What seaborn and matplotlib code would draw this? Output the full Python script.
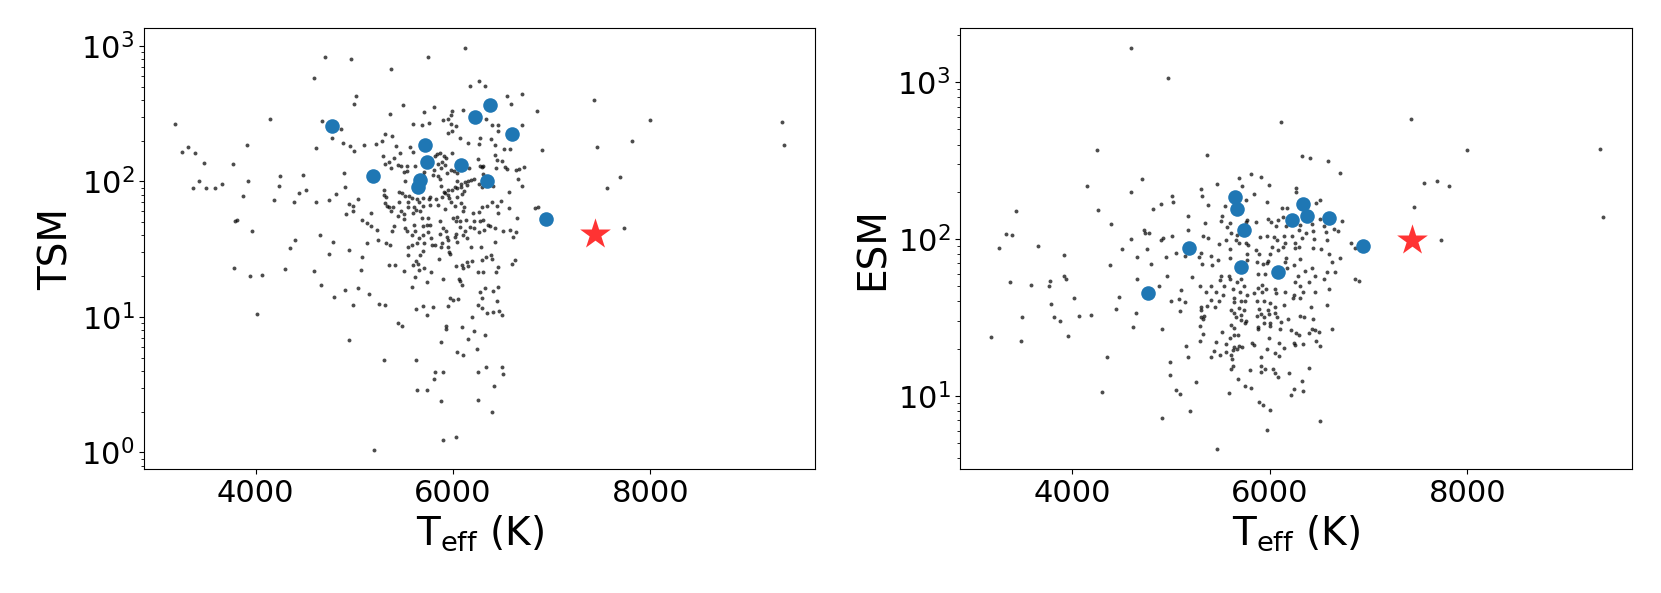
import pandas as pd
import matplotlib
matplotlib.use("Agg")
import matplotlib.pyplot as plt
import seaborn as sns

# (Teff [K], TSM) for the background sample
tsm_points = [
    (6120, 970), (4700, 830), (4970, 800), (5750, 830), (5370, 680), (4590, 580), (6170, 510), (6260, 550), (5020, 425), (5000, 370),
    (3180, 265), (4150, 290), (4670, 280), (4870, 245), (4780, 208), (4610, 177), (4890, 192), (4960, 184), (5000, 169), (5100, 186),
    (5220, 188), (3910, 187), (3250, 166), (3320, 180), (3390, 161), (3480, 136), (3770, 135), (3430, 100), (3370, 90), (3500, 90),
    (3590, 89), (3660, 96), (3920, 101), (4240, 92), (4250, 110), (4480, 111), (4510, 87), (4440, 82), (4190, 73), (3870, 78),
    (4390, 71), (4610, 71), (4740, 73), (4820, 81), (4900, 116), (4910, 91), (5040, 74), (4950, 68), (4990, 66), (4920, 57),
    (4990, 61), (5170, 118), (5170, 58), (5080, 52), (5170, 47), (5130, 49), (5230, 44), (3960, 43), (3790, 51), (3810, 52),
    (4400, 37), (4650, 40), (4790, 36), (5130, 35), (5240, 37), (4350, 32),
    (6330, 503), (6550, 425), (6700, 444), (7430, 401), (8000, 286), (9330, 275), (9360, 187), (7460, 181), (7810, 199), (7690, 107),
    (7560, 90), (7730, 45),
    (4740, 28.9), (4950, 31.1), (5080, 27.5), (5070, 22.3), (3780, 22.9), (3940, 20.0), (4070, 20.4), (4300, 22.5), (4590, 21.9), (4660, 17.3),
    (4800, 14.1), (4910, 15.8), (5040, 16.4), (4990, 12.2), (5150, 14.7), (5250, 12.5), (4010, 10.5), (4950, 6.8), (5200, 1.04), (5880, 2.4),
    (5900, 1.24), (6030, 1.3), (6250, 2.45), (6400, 2.0),
    (5490, 368), (5810, 354), (6590, 374), (5360, 315), (5710, 328), (5990, 332), (6100, 338), (5980, 310), (6850, 330),
    (5600, 266), (5690, 260), (5760, 272), (5900, 282), (5950, 288), (5980, 266), (6030, 255), (5990, 236), (5950, 227), (6340, 288),
    (6400, 259), (6460, 259), (6460, 234), (6700, 259),
    (5310, 222), (5380, 217), (5280, 200), (6070, 208), (6150, 191), (6270, 209), (6260, 188), (6390, 205), (6430, 186), (6520, 174),
    (6580, 174), (6900, 171),
    (5420, 184), (5570, 181), (5460, 163), (5600, 166), (5290, 153), (5400, 149), (5350, 138), (5310, 134), (5370, 125), (5440, 132),
    (5470, 129), (5500, 118), (5540, 129), (5540, 120), (5620, 129),
    (5820, 155), (5840, 159), (5870, 161), (5910, 155), (5990, 163), (5930, 148), (5890, 140), (5920, 133), (5850, 134), (5880, 125),
    (5810, 122), (5800, 112), (5710, 118), (5700, 112), (5850, 109), (5870, 105), (5940, 116), (5980, 122), (6010, 120), (6040, 115),
    (6250, 146), (6270, 129), (6290, 127), (6310, 129), (6160, 125), (6430, 157), (6450, 145), (6500, 141), (6440, 125), (6530, 127),
    (6550, 124), (6640, 121), (6670, 123), (6720, 127), (6310, 114), (6330, 108), (6210, 105),
    (5510, 101), (6040, 101), (6080, 96), (6120, 99), (6150, 101), (6180, 103), (6140, 94), (6080, 91), (6020, 91), (5990, 86),
    (5950, 87), (5920, 82), (5880, 93), (5910, 83), (5950, 79), (5890, 77), (5960, 75), (6040, 90), (6110, 85), (6090, 81),
    (6040, 77), (6260, 96), (6290, 91), (6390, 97), (6410, 93), (6570, 84), (6660, 105), (6700, 93),
    (5300, 86), (5320, 77), (5300, 80), (5450, 83), (5480, 82), (5510, 78), (5560, 78), (5590, 75), (5640, 74), (5700, 76),
    (5770, 77), (5760, 74), (5830, 74), (5660, 71), (5550, 71), (5450, 71), (5310, 69), (5330, 66), (5350, 65), (5390, 65),
    (5370, 61), (5440, 56), (5470, 61), (5500, 57), (5500, 53), (5550, 65), (5610, 65), (5630, 62), (5600, 58), (5670, 61),
    (5700, 66), (5770, 67), (5690, 54), (5750, 54), (5740, 48), (5610, 48), (5620, 43), (5700, 47), (5770, 48),
    (5850, 67), (5920, 63), (5980, 71), (6020, 66), (6080, 69), (6110, 65), (6100, 61), (6040, 55), (6030, 51), (6000, 54),
    (6070, 51), (6130, 52), (6200, 58), (6260, 59), (6300, 65), (6350, 66), (6400, 70), (6450, 66), (6490, 72), (6570, 64),
    (6460, 58), (6310, 52), (6270, 51), (6360, 48), (6380, 47), (6210, 51), (6170, 46), (6070, 46), (6120, 43), (6210, 45),
    (6260, 42), (6320, 44), (6430, 45), (6510, 43), (6580, 44), (6610, 39), (6640, 42), (6650, 54), (6830, 64), (6860, 65),
    (5400, 47), (5510, 45), (5540, 43), (5380, 43), (5590, 40), (5660, 38), (5700, 40), (5780, 38), (5750, 42), (5870, 51),
    (5900, 45), (5930, 43), (5940, 39), (5870, 41), (5950, 37), (5890, 35), (5880, 33), (5820, 34), (5790, 34), (5710, 35),
    (5640, 35), (5590, 34), (5550, 33), (5320, 35), (5360, 34), (6030, 41), (6020, 39), (6040, 36), (6100, 40), (6140, 38),
    (6180, 33), (6280, 33), (6430, 36), (5950, 33),
    (5700, 30.8), (5960, 30.2), (5970, 29.2), (5550, 28.6), (5670, 28.4), (6300, 26.2), (6340, 27.5), (6390, 28.6), (6400, 26.6), (5630, 26.0),
    (5350, 24.2), (5410, 24.2), (5600, 24.1), (5650, 24.5), (5710, 22.8), (5660, 22.1), (5500, 21.8), (5780, 21.6), (5860, 26.6), (6030, 23.6),
    (6090, 24.1), (6100, 23.1), (6140, 25.5), (6150, 23.8), (6190, 25.8), (6250, 21.3), (6310, 21.5), (6440, 21.6), (6460, 23.2), (6600, 24.5),
    (6630, 26.2),
    (5620, 19.7), (5900, 19.0), (6060, 19.2), (6070, 18.4), (6090, 17.3), (5740, 18.1), (5590, 16.6), (6330, 16.4), (6460, 16.6), (6270, 15.2),
    (6410, 15.4), (6290, 13.9), (5970, 13.9), (6000, 13.3), (6050, 13.6), (6450, 13.0), (5310, 12.3), (5630, 11.5), (5700, 12.0), (5800, 11.9),
    (5950, 12.1), (5740, 10.4), (6250, 12.2), (6300, 11.7), (6350, 10.6), (6410, 10.8), (6470, 11.0), (6500, 10.3), (6190, 9.9), (5440, 9.0),
    (5480, 8.5), (5930, 8.6), (5930, 8.1), (6090, 8.4), (6210, 7.9), (6330, 7.3), (6150, 6.9), (5880, 6.5), (6240, 5.8), (6040, 5.5),
    (6100, 5.2), (5300, 4.8), (5630, 4.8), (6340, 4.3), (6500, 4.3), (5820, 3.9), (5900, 3.9), (6250, 3.9), (6510, 3.8), (5810, 3.5),
    (6420, 3.1), (5640, 2.9), (5740, 2.9),
]

# (Teff [K], ESM) for the background sample
esm_points = [
    (4600, 1660), (4970, 1070), (6120, 560), (4250, 371), (4150, 217), (4600, 199), (4260, 154), (3430, 152), (4400, 124), (3330, 107),
    (3390, 106), (4600, 100), (3260, 88), (3660, 90), (4510, 87), (3920, 79), (4390, 68), (3370, 53), (3590, 51), (3780, 54),
    (3770, 50), (3920, 58), (3940, 56), (4480, 43), (4020, 42), (3790, 38.5), (4450, 35.6), (3500, 32), (3820, 31.7), (3880, 30),
    (4070, 32.3), (4190, 33), (4620, 27.5), (3180, 23.9), (3480, 22.4), (3960, 24.2), (4360, 17.6), (4300, 10.6), (5470, 4.6),
    (5370, 343), (6330, 337), (6410, 327), (6590, 315), (6710, 262), (4710, 243), (5690, 246), (5810, 260), (5910, 250), (5990, 221),
    (5470, 225), (5310, 210), (5720, 218), (5840, 193), (6270, 212), (6270, 201), (5010, 188), (5020, 173), (4900, 168), (4820, 155),
    (5320, 187), (5380, 165), (5550, 162), (5760, 178), (5970, 172), (6130, 158), (6180, 158), (6470, 170), (6510, 178),
    (5170, 141), (5520, 141), (5510, 131), (5600, 127), (5570, 119), (5770, 133), (5760, 129), (5860, 128), (5980, 134), (6010, 129),
    (6090, 133), (6140, 138), (6070, 122), (6170, 122), (6510, 134), (6550, 122), (6730, 131), (6650, 116), (6690, 113), (6310, 123),
    (6430, 125), (6440, 113), (6300, 114), (6370, 110), (6570, 111),
    (4730, 115), (4740, 109), (4780, 109), (4900, 99), (4920, 102), (5010, 104), (4760, 87), (4660, 77), (4950, 77), (5050, 82),
    (5170, 115), (5350, 126), (5380, 101), (5330, 104), (5310, 82), (5290, 77), (5410, 78), (5320, 69), (5480, 74), (5420, 68),
    (5510, 58), (5410, 50), (5360, 46), (5300, 50), (5220, 57), (5100, 47), (4880, 50), (4960, 58), (4800, 69), (4660, 56),
    (5490, 93), (5560, 98), (5600, 87), (5600, 76), (5660, 98), (5690, 94), (5610, 109), (5670, 106), (5760, 95), (5780, 92),
    (5770, 80), (5770, 74), (5860, 85), (5890, 80), (5900, 103), (5970, 104), (6040, 103), (6080, 98), (6150, 104), (6160, 95),
    (6020, 89), (6000, 80), (5980, 72), (6090, 85), (6140, 89), (6170, 76), (6230, 104), (6260, 95), (6260, 88), (6330, 102),
    (6300, 89), (6310, 75), (6440, 88), (6450, 100), (6520, 87), (6600, 80), (6580, 98), (6710, 76), (6630, 71), (6580, 62),
    (6660, 62), (6430, 65), (6360, 63), (6460, 58), (6400, 53), (6550, 56), (6460, 46), (6600, 48), (6290, 58), (6250, 68),
    (6180, 65), (6160, 71), (5970, 70), (5870, 71), (5930, 69), (5880, 60), (5950, 60), (5920, 51), (5880, 49), (5960, 48),
    (5920, 46), (6050, 48), (6070, 45), (6160, 46), (6260, 53), (6310, 50), (6340, 46), (6250, 44),
    (5590, 58), (5600, 56), (5670, 53), (5710, 56), (5740, 50), (5630, 48), (5700, 46), (5770, 44), (5540, 50), (5500, 55),
    (5460, 46), (5530, 44), (5640, 42), (5840, 45), (5140, 78),
    (5000, 40), (5080, 41.5), (5140, 39.5), (5410, 41), (5490, 40), (5640, 39.5), (5710, 40.5), (5750, 40), (5870, 40.5), (5940, 40),
    (6000, 39), (6050, 36.7), (6060, 34), (6080, 32), (6150, 38), (6240, 42), (6310, 42), (6420, 37), (6580, 38),
    (4650, 34), (5090, 35), (5310, 37), (5310, 35.5), (5370, 37.5), (5450, 36.7), (5610, 35.5), (5640, 34), (5690, 36.5), (5740, 35.5),
    (5660, 32), (5710, 33), (5890, 36), (5910, 33.3), (5980, 35.5), (5990, 33.3),
    (5310, 31.7), (5340, 32.5), (5330, 31), (5760, 30.2), (5710, 30.5), (5610, 28.5), (5640, 27), (5750, 29), (5870, 32.5), (5940, 32),
    (6000, 29), (6000, 27.8), (5940, 29.3), (5880, 27.4), (5880, 26.8), (6120, 29.5), (6110, 26.5), (6190, 31), (6220, 26.3), (6310, 32.5),
    (6350, 32), (6440, 31),
    (6270, 25), (6300, 24.5), (6400, 25), (6430, 26.8), (6460, 26.3), (6500, 25.5), (6630, 26.8), (4910, 26.5), (5300, 27.8), (5330, 24.8),
    (5300, 22.5), (5520, 25.5), (5600, 23.5), (5640, 24.5), (5680, 24.5), (5460, 22), (5560, 21.5), (5820, 21.8), (5840, 21.2), (5990, 23.3),
    (6100, 21.7), (6250, 21.7), (6260, 21.2), (6340, 21.5), (6470, 22.3), (6510, 20.8),
    (5150, 20.8), (5170, 17.8), (5440, 19.3), (5500, 18.3), (5560, 19), (5410, 17.7), (5610, 18.2), (5630, 19.5), (5670, 20), (5720, 20.6),
    (5640, 20.4), (5620, 17.1), (5630, 15.5), (5610, 14.8), (5690, 20.7), (5970, 20), (6050, 18.7), (6100, 18), (6150, 20.2), (5910, 17.7),
    (5910, 15.4), (5950, 14.8), (5910, 14.2), (6030, 14.8), (6050, 13.9), (6090, 13.1), (6200, 14), (6400, 15), (5800, 14.7),
    (4990, 16.4), (4990, 13.5), (5260, 12.2), (5050, 10.9), (5090, 10.3), (5590, 10.4), (5680, 12.8), (5750, 11.6), (5810, 11.3), (5890, 9.2),
    (5930, 8.8), (6000, 8.1), (6250, 11.1), (6220, 10.1), (6330, 12.4), (6340, 10.8), (6510, 6.9), (5970, 6.1), (5200, 8), (4910, 7.2),
    (7430, 586), (8000, 368), (9340, 377), (7560, 228), (7690, 235), (7820, 217), (7460, 160), (9370, 138), (7730, 98), (6820, 94),
    (6860, 88), (6860, 56), (6900, 54),
]

# highlighted planets (blue) and the target (red star)
planet_teff = [4775, 5187, 5650, 5670, 5715, 5740, 6084, 6229, 6341, 6380, 6599, 6943]
planet_tsm = [255, 109, 91, 102, 187, 140, 133, 298, 101, 366, 223, 53]
planet_esm = [45, 88, 185, 156, 66, 114, 62, 133, 168, 140, 137, 90]

target_teff = 7437
target_tsm = 41
target_esm = 98

XLABEL = r"T$_{\rm eff}$ (K)"
LABEL_SIZE = 28
TICK_SIZE = 22


def panel(ax, df, col, planet_vals, target_val, ylim, ylabel):
    sns.scatterplot(data=df, x="teff", y=col, ax=ax, color="black", alpha=0.7,
                    s=8, linewidth=0)
    sns.scatterplot(x=planet_teff, y=planet_vals, ax=ax, color="#1f77b4",
                    s=110, linewidth=0, zorder=3)
    sns.scatterplot(x=[target_teff], y=[target_val], ax=ax, marker="*",
                    color="red", alpha=0.8, s=540, linewidth=0, zorder=4)
    ax.set_yscale("log")
    ax.set_xlim(2870, 9670)
    ax.set_ylim(*ylim)
    ax.set_xticks([4000, 6000, 8000])
    ax.set_xlabel(XLABEL, fontsize=LABEL_SIZE)
    ax.set_ylabel(ylabel, fontsize=LABEL_SIZE)
    ax.tick_params(axis="both", which="major", labelsize=TICK_SIZE)


def main():
    df_tsm = pd.DataFrame(tsm_points, columns=["teff", "tsm"])
    df_esm = pd.DataFrame(esm_points, columns=["teff", "esm"])

    fig = plt.figure(figsize=(16.61, 5.93), dpi=100)
    ax1 = fig.add_axes([0.0867, 0.2086, 0.404, 0.7437])
    ax2 = fig.add_axes([0.5781, 0.2086, 0.4046, 0.7437])

    panel(ax1, df_tsm, "tsm", planet_tsm, target_tsm, (0.75, 1350), "TSM")
    panel(ax2, df_esm, "esm", planet_esm, target_esm, (3.4, 2210), "ESM")

    fig.savefig("out.png", dpi=100)


if __name__ == "__main__":
    main()
